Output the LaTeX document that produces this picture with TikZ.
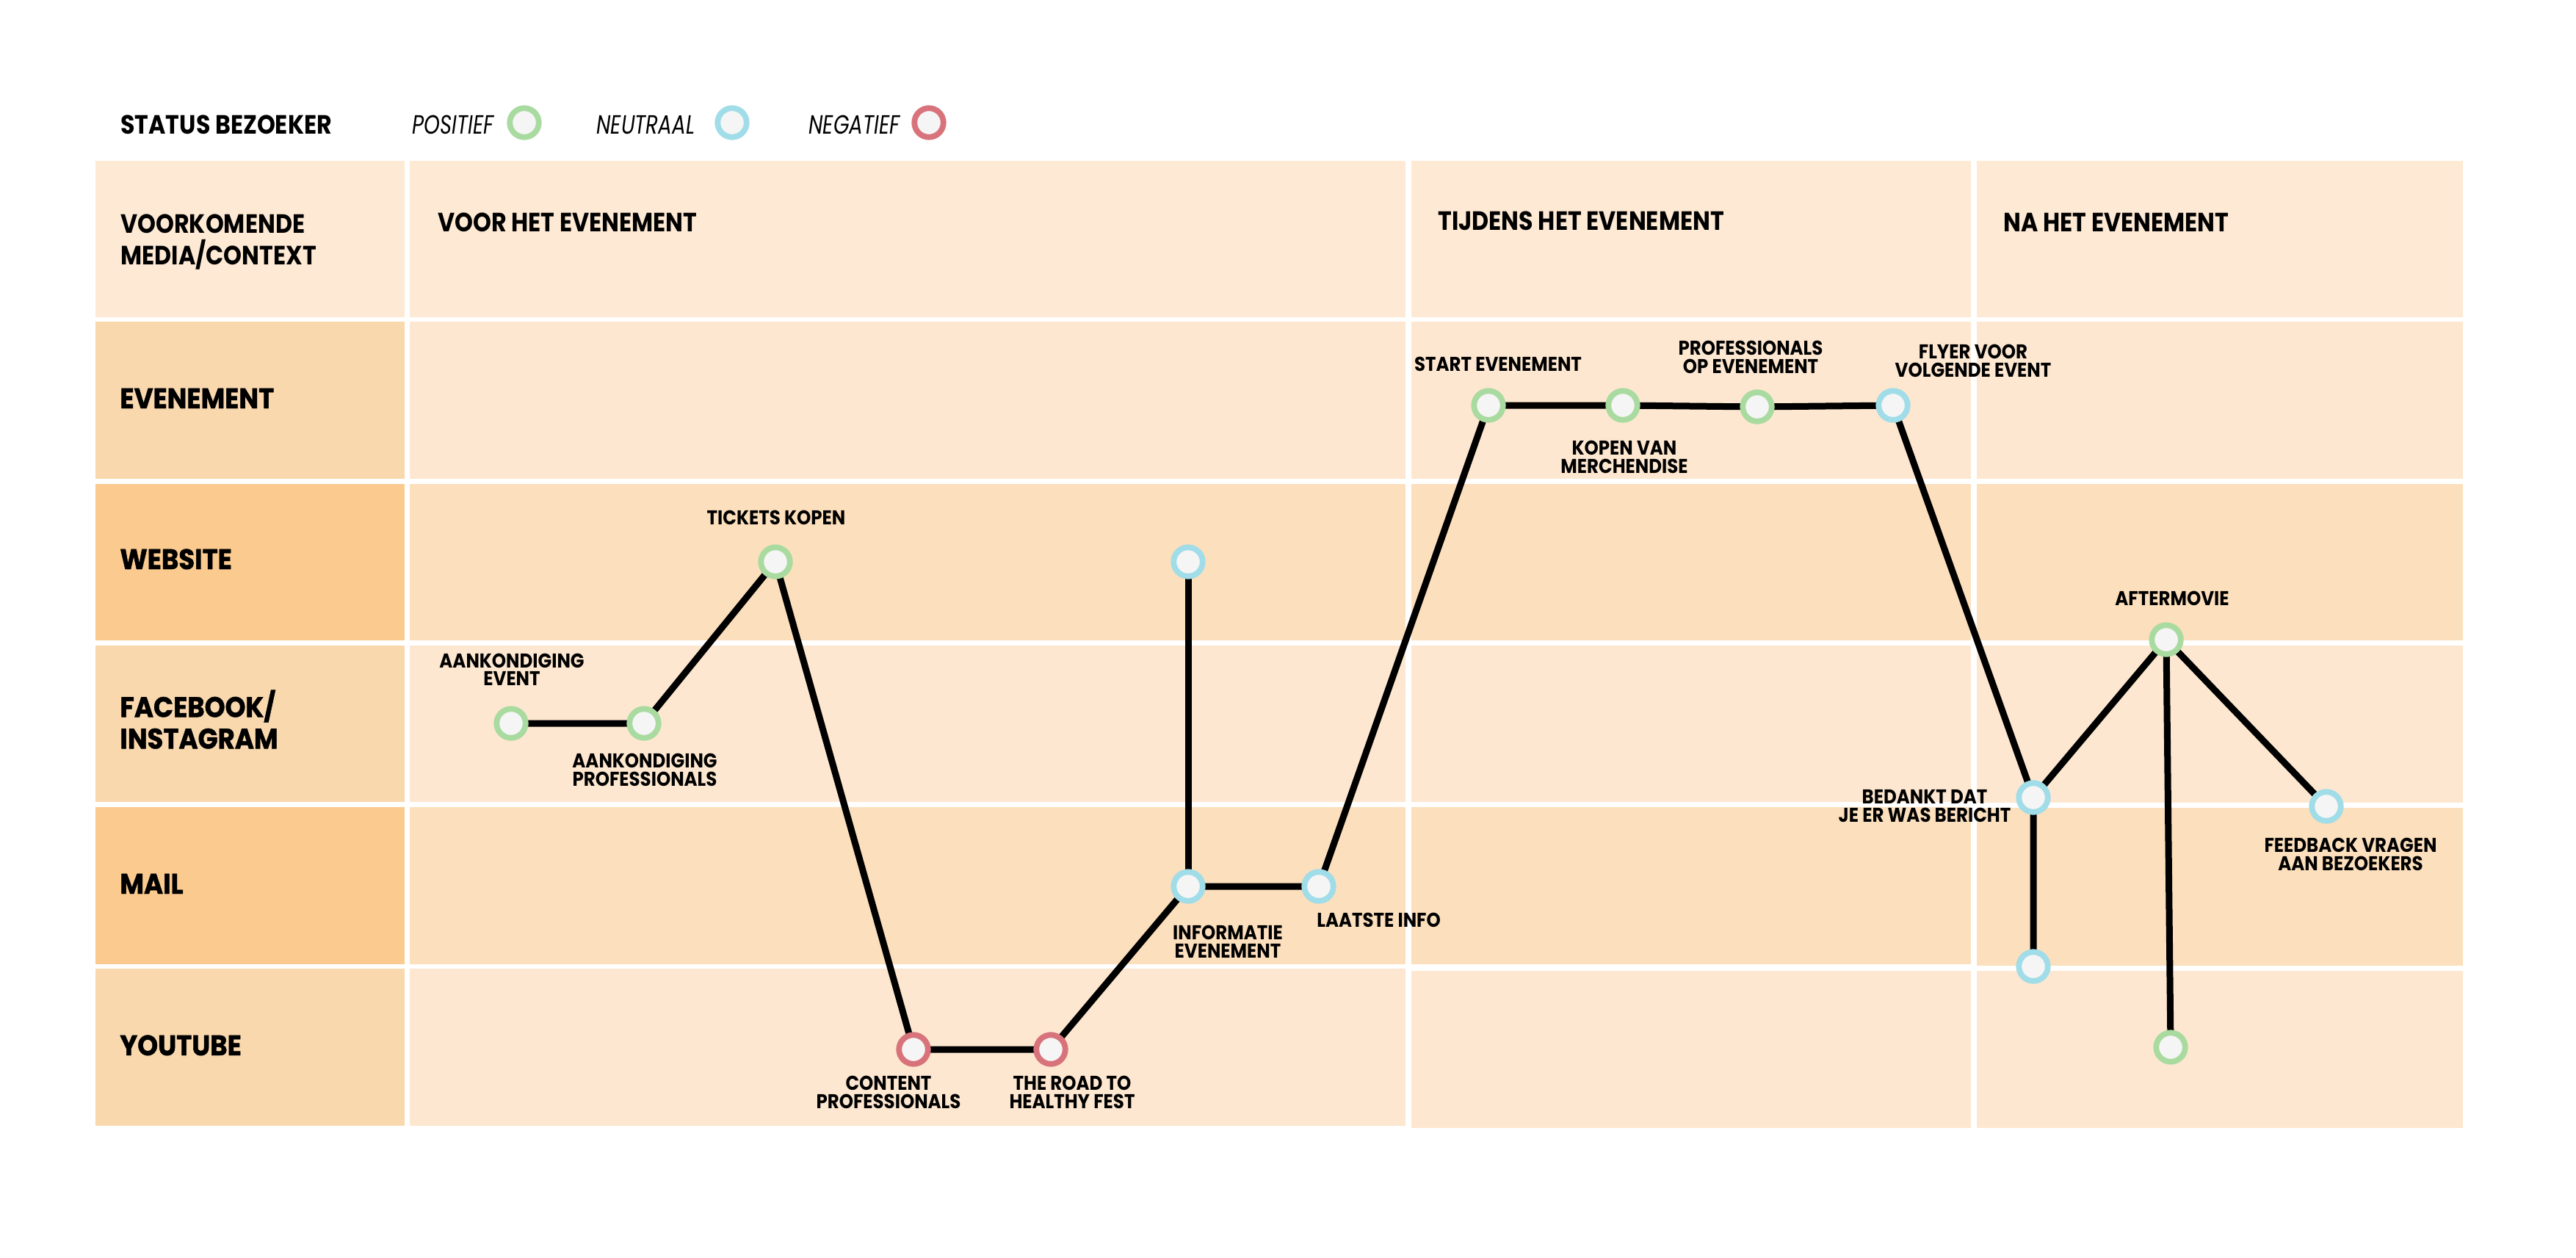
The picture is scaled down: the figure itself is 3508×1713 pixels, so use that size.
\documentclass[tikz,border=0pt]{standalone}
\usepackage{fontspec}
\newfontfamily\hdrfont{Poppins}[FakeStretch=0.88]
\newfontfamily\rowfont{Poppins}[FakeStretch=0.92, FakeBold=1.2]
\newfontfamily\lblfont{Poppins}[FakeStretch=0.9]
\newfontfamily\legfont{Poppins}[FakeStretch=0.77]
\pgfdeclarelayer{bg}
\pgfdeclarelayer{edges}
\pgfsetlayers{bg,edges,main}
\definecolor{cpos}{HTML}{A9DBA0}
\definecolor{cneu}{HTML}{A0DDE8}
\definecolor{cneg}{HTML}{D8737B}
\definecolor{cfill}{HTML}{F5F5F5}
\definecolor{hdrcell}{HTML}{FDE9D4}
\definecolor{labl}{HTML}{F9D8AE}
\definecolor{labd}{HTML}{FBCA8E}
\definecolor{conl}{HTML}{FDE7D0}
\definecolor{cond}{HTML}{FCDFBC}
\tikzset{
  station/.style={circle, fill=cfill, line width=3.9pt, minimum size=19.75pt, inner sep=0pt},
  stpos/.style={station, draw=cpos},
  stneu/.style={station, draw=cneu},
  stneg/.style={station, draw=cneg},
  lbl/.style={font=\lblfont\bfseries\fontsize{13.6}{12.25}\selectfont, align=center, inner sep=0pt},
  hdr/.style={font=\hdrfont\bfseries\fontsize{18}{21.5}\selectfont, align=left, inner sep=0pt},
  rowlbl/.style={font=\rowfont\bfseries\fontsize{19.3}{21.5}\selectfont, align=left, inner sep=0pt},
  leg/.style={font=\legfont\itshape\fontsize{18}{20}\selectfont, inner sep=0pt},
  link/.style={line width=4.5pt, black}
}
\begin{document}
\begin{tikzpicture}[x=0.5pt, y=-0.5pt]
\useasboundingbox (0,0) rectangle (3508,1713);
\begin{pgfonlayer}{bg}
\fill[white] (0,0) rectangle (3508,1713);
% header row
\fill[hdrcell] (130,219) rectangle (551,432);
\fill[hdrcell] (558,219) rectangle (1914,432);
\fill[hdrcell] (1922,219) rectangle (2684,432);
\fill[hdrcell] (2692,219) rectangle (3354,432);
% label column
\fill[labl] (130,438) rectangle (551,652);
\fill[labd] (130,659) rectangle (551,872);
\fill[labl] (130,879) rectangle (551,1092);
\fill[labd] (130,1099) rectangle (551,1313);
\fill[labl] (130,1319) rectangle (551,1533);
% content columns
\fill[conl] (558,438) rectangle (1914,652);
\fill[cond] (558,659) rectangle (1914,872);
\fill[conl] (558,879) rectangle (1914,1092);
\fill[cond] (558,1099) rectangle (1914,1313);
\fill[conl] (558,1319) rectangle (1914,1533);
\fill[conl] (1922,438) rectangle (2684,652);
\fill[cond] (1922,659) rectangle (2684,872);
\fill[conl] (1922,879) rectangle (2684,1092);
\fill[cond] (1922,1099) rectangle (2684,1313);
\fill[conl] (1922,1322) rectangle (2684,1536);
\fill[conl] (2692,438) rectangle (3354,652);
\fill[cond] (2692,659) rectangle (3354,872);
\fill[conl] (2692,879) rectangle (3354,1093);
\fill[cond] (2692,1100) rectangle (3354,1315);
\fill[conl] (2692,1322) rectangle (3354,1536);
\end{pgfonlayer}

% legend
\node[hdr, anchor=base west] (status) at (164,182) {STATUS BEZOEKER};
\node[leg, anchor=base west] (legpos) at (561,182) {POSITIEF};
\node[stpos] (cirpos) at (714,167) {};
\node[leg, anchor=base west] (legneu) at (812,182) {NEUTRAAL};
\node[stneu] (cirneu) at (997,167) {};
\node[leg, anchor=base west] (legneg) at (1101,182) {NEGATIEF};
\node[stneg] (cirneg) at (1265,167) {};

% header texts
\node[hdr, anchor=south west] (media) at (164,368) {VOORKOMENDE\\MEDIA/CONTEXT};
\node[hdr, anchor=base west] (voor) at (596,315) {VOOR HET EVENEMENT};
\node[hdr, anchor=base west] (tijdens) at (1958,313) {TIJDENS HET EVENEMENT};
\node[hdr, anchor=base west] (na) at (2728,315) {NA HET EVENEMENT};

% row labels
\node[rowlbl, anchor=base west] (revenement) at (163,556) {EVENEMENT};
\node[rowlbl, anchor=base west] (rwebsite) at (163,775) {WEBSITE};
\node[rowlbl, anchor=south west] (rfacebook) at (163,1020) {FACEBOOK/\\INSTAGRAM};
\node[rowlbl, anchor=base west] (rmail) at (163,1217) {MAIL};
\node[rowlbl, anchor=base west] (ryoutube) at (163,1437) {YOUTUBE};

% stations
\node[stpos] (ae) at (696,985) {};
\node[stpos] (ap) at (877,985) {};
\node[stpos] (tk) at (1056,765) {};
\node[stneg] (cp) at (1244,1429) {};
\node[stneg] (rh) at (1431,1429) {};
\node[stneu] (wb) at (1618,765) {};
\node[stneu] (ie) at (1618,1207) {};
\node[stneu] (li) at (1796,1207) {};
\node[stpos] (se) at (2027,552) {};
\node[stpos] (km) at (2210,552) {};
\node[stpos] (po) at (2393,554) {};
\node[stneu] (fv) at (2578,552) {};
\node[stneu] (bd) at (2769,1086) {};
\node[stneu] (bl) at (2769,1316) {};
\node[stpos] (am) at (2950,871) {};
\node[stpos] (gb) at (2956,1426) {};
\node[stneu] (fb) at (3168,1098) {};

% connectors
\begin{pgfonlayer}{edges}
\draw[link] (ae.center) -- (ap.center) -- (tk.center) -- (cp.center) -- (rh.center) -- (ie.center) -- (li.center) -- (se.center) -- (km.center) -- (po.center) -- (fv.center) -- (bd.center) -- (bl.center);
\draw[link] (wb.center) -- (ie.center);
\draw[link] (bd.center) -- (am.center);
\draw[link] (am.center) -- (gb.center);
\draw[link] (am.center) -- (fb.center);
\end{pgfonlayer}

% station labels
\node[lbl, anchor=south] (ltk) at (1057,715) {TICKETS KOPEN};
\node[lbl, anchor=south] (lae) at (697,934) {AANKONDIGING\\EVENT};
\node[lbl, anchor=north] (lap) at (878,1026) {AANKONDIGING\\PROFESSIONALS};
\node[lbl, anchor=north] (lcp) at (1210,1465) {CONTENT\\PROFESSIONALS};
\node[lbl, anchor=north] (lrh) at (1460,1465) {THE ROAD TO\\HEALTHY FEST};
\node[lbl, anchor=north] (lie) at (1672,1260) {INFORMATIE\\EVENEMENT};
\node[lbl, anchor=north west] (lli) at (1793,1243) {LAATSTE INFO};
\node[lbl, anchor=south] (lse) at (2040,506) {START EVENEMENT};
\node[lbl, anchor=north] (lkm) at (2212,600) {KOPEN VAN\\MERCHENDISE};
\node[lbl, anchor=south] (lpo) at (2384,509) {PROFESSIONALS\\OP EVENEMENT};
\node[lbl, anchor=south] (lfv) at (2687,514) {FLYER VOOR\\VOLGENDE EVENT};
\node[lbl, anchor=south] (lam) at (2958,825) {AFTERMOVIE};
\node[lbl, anchor=south] (lbd) at (2621,1120) {BEDANKT DAT\\JE ER WAS BERICHT};
\node[lbl, anchor=north] (lfb) at (3201,1141) {FEEDBACK VRAGEN\\AAN BEZOEKERS};
\end{tikzpicture}
\end{document}
